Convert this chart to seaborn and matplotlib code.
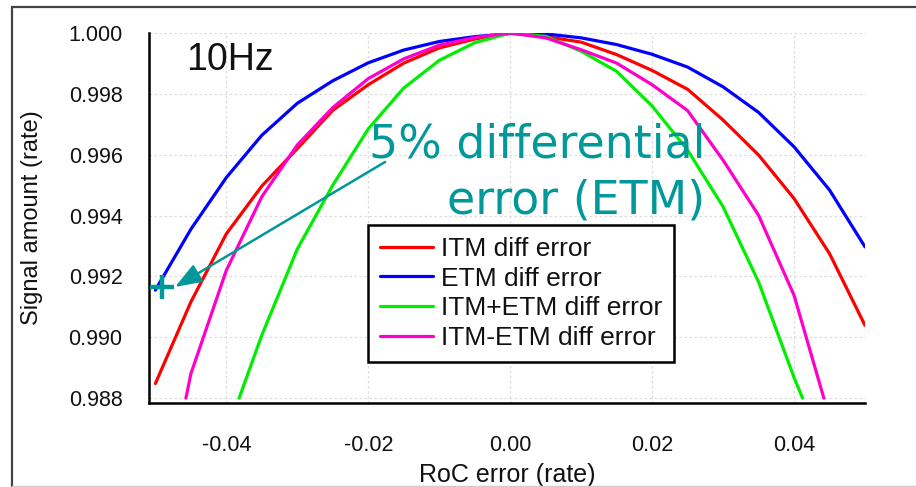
import numpy as np
import pandas as pd
import matplotlib
matplotlib.use("Agg")
import matplotlib.pyplot as plt
from matplotlib.lines import Line2D
import seaborn as sns

# ---- data ----
series_names = ["ITM diff error", "ETM diff error", "ITM+ETM diff error", "ITM-ETM diff error"]
series_colors = ["#ff0000", "#0000ff", "#00ee00", "#ff00cc"]

itm_x = [-0.05, -0.045, -0.04, -0.035, -0.03, -0.025, -0.02, -0.015, -0.01, -0.005, 0.0,
         0.005, 0.01, 0.015, 0.02, 0.025, 0.03, 0.035, 0.04, 0.045, 0.05]
itm_y = [0.98848, 0.99116, 0.99340, 0.99497, 0.99620, 0.99746, 0.99830, 0.99901, 0.99951, 0.99980, 1.00000,
         0.99988, 0.99970, 0.99929, 0.99877, 0.99815, 0.99714, 0.99599, 0.99456, 0.99275, 0.99039]

etm_x = [-0.05, -0.045, -0.04, -0.035, -0.03, -0.025, -0.02, -0.015, -0.01, -0.005, 0.0,
         0.005, 0.01, 0.015, 0.02, 0.025, 0.03, 0.035, 0.04, 0.045, 0.05]
etm_y = [0.99155, 0.99355, 0.99525, 0.99664, 0.99769, 0.99843, 0.99902, 0.99944, 0.99972, 0.99988, 0.99998,
         0.99997, 0.99984, 0.99962, 0.99930, 0.99888, 0.99823, 0.99739, 0.99626, 0.99484, 0.99297]

sum_x = [-0.0382, -0.035, -0.03, -0.025, -0.02, -0.015, -0.01, -0.005, 0.0,
         0.005, 0.01, 0.015, 0.02, 0.025, 0.03, 0.035, 0.04, 0.0412]
sum_y = [0.98800, 0.99007, 0.99290, 0.99500, 0.99685, 0.99819, 0.99910, 0.99968, 1.00000,
         0.99989, 0.99940, 0.99874, 0.99760, 0.99615, 0.99429, 0.99182, 0.98868, 0.98800]

dif_x = [-0.0457, -0.045, -0.04, -0.035, -0.03, -0.025, -0.02, -0.015, -0.01, -0.005, 0.0,
         0.005, 0.01, 0.015, 0.02, 0.025, 0.03, 0.035, 0.04, 0.0442]
dif_y = [0.98800, 0.98880, 0.99220, 0.99462, 0.99632, 0.99755, 0.99850, 0.99915, 0.99960, 0.99985, 1.00000,
         0.99984, 0.99945, 0.99901, 0.99830, 0.99745, 0.99582, 0.99401, 0.99138, 0.98800]

x_ticks = [-0.04, -0.02, 0.00, 0.02, 0.04]
x_tick_labels = ["-0.04", "-0.02", "0.00", "0.02", "0.04"]
y_ticks = [0.988, 0.990, 0.992, 0.994, 0.996, 0.998, 1.000]
y_tick_labels = ["0.988", "0.990", "0.992", "0.994", "0.996", "0.998", "1.000"]

marker_x = [-0.04906]
marker_y = [0.99165]

# ---- build long table ----
frames = []
for name, xs, ys in zip(series_names, [itm_x, etm_x, sum_x, dif_x], [itm_y, etm_y, sum_y, dif_y]):
    frames.append(pd.DataFrame({"x": xs, "v": ys, "series": name}))
df = pd.concat(frames, ignore_index=True)

sns.set_theme(style="white")
plt.rcParams["font.family"] = ["Liberation Sans", "DejaVu Sans"]

W, H = 916, 487
fig = plt.figure(figsize=(W / 100, H / 100), dpi=100)
ax = fig.add_axes([149 / W, 1 - 403 / H, (865 - 149) / W, (403 - 33) / H])

sns.lineplot(data=df, x="x", y="v", hue="series", hue_order=series_names,
             palette=dict(zip(series_names, series_colors)), estimator=None,
             sort=False, linewidth=2.3, ax=ax)

ax.set_xlim(-0.0509, 0.050)
ax.set_ylim(0.98784, 1.000)
ax.set_xticks(x_ticks)
ax.set_xticklabels(x_tick_labels)
ax.set_yticks(y_ticks)
ax.set_yticklabels(y_tick_labels)
ax.grid(True, color="#dcdcdc", linestyle=(0, (2, 2)), linewidth=0.9)
for side in ["top", "right"]:
    ax.spines[side].set_visible(False)
for side in ["left", "bottom"]:
    ax.spines[side].set_color("black")
    ax.spines[side].set_linewidth(1.8)
ax.tick_params(axis="both", which="major", direction="out", length=12, width=1.8,
               color="black", labelsize=15.5, labelcolor="#111111")
ax.tick_params(axis="y", pad=7)
ax.tick_params(axis="x", pad=11)
ax.set_xlabel("RoC error (rate)", fontsize=18, color="#111111", labelpad=5)
ax.set_ylabel("Signal amount (rate)", fontsize=17, color="#111111", labelpad=18)

# 10Hz label
ax.text(186 / W, 1 - 70 / H, "10Hz", transform=fig.transFigure, fontsize=27,
        ha="left", va="baseline", color="#111111")

# annotation
teal = "#009898"
fig.text(705 / W, 1 - 157 / H, "5% differential", fontsize=33, color=teal,
         ha="right", va="baseline", family=["DejaVu Sans"])
fig.text(705 / W, 1 - 213 / H, "error (ETM)", fontsize=33, color=teal,
         ha="right", va="baseline", family=["DejaVu Sans"])
ax.annotate("", xy=(175 / W, 1 - 287 / H), xycoords="figure fraction",
            xytext=(385 / W, 1 - 162 / H), textcoords="figure fraction",
            arrowprops=dict(arrowstyle="-|>,head_length=1.35,head_width=0.5",
                            color=teal, linewidth=1.8, shrinkA=0, shrinkB=0))
ax.plot(marker_x, marker_y, marker="+", markersize=17, markeredgewidth=3.2,
        color=teal, linestyle="none", clip_on=False, zorder=5)

# legend
sns.move_legend(ax, "upper left", bbox_to_anchor=(368 / W, 1 - 225 / H),
                bbox_transform=fig.transFigure, title=None, frameon=True,
                fontsize=19, handlelength=2.0, handletextpad=0.3,
                labelspacing=0.22, borderpad=0.45, borderaxespad=0,
                fancybox=False, shadow=False)
leg = ax.get_legend()
leg.get_frame().set_edgecolor("black")
leg.get_frame().set_linewidth(1.8)
leg.get_frame().set_alpha(1)
for t in leg.get_texts():
    t.set_color("#111111")

# figure frame
fig.add_artist(Line2D([12 / W, 1.0], [1 - 7 / H, 1 - 7 / H], color="#444444", linewidth=1.6,
                      transform=fig.transFigure))
fig.add_artist(Line2D([12 / W, 12 / W], [1 - 7 / H, 1 - 486 / H], color="#444444", linewidth=1.6,
                      transform=fig.transFigure))
fig.add_artist(Line2D([12 / W, 1.0], [1 - 486 / H, 1 - 486 / H], color="#cccccc", linewidth=1.0,
                      transform=fig.transFigure))

fig.savefig("out.png", dpi=100)
